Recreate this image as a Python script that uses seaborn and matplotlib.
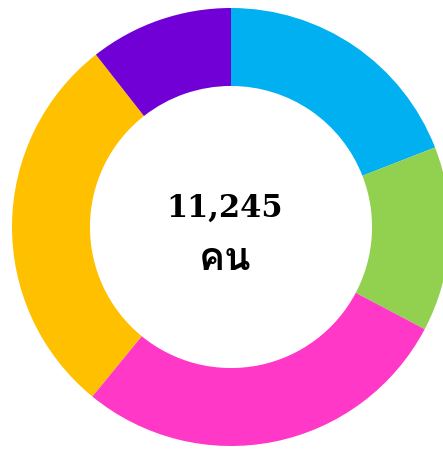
import matplotlib
matplotlib.use("Agg")
import matplotlib.pyplot as plt
from matplotlib import font_manager
from matplotlib.ft2font import FT2Font
import seaborn as sns

# donut segments, clockwise from 12 o'clock
groups = ["A", "B", "C", "D", "E"]
people = [2146, 1534, 3170, 3205, 1190]
colors = ["#00B0F0", "#92D050", "#FF38C8", "#FFC000", "#7000D6"]
total_label = "11,245"
unit_label = "คน"


def thai_font():
    # look for any installed font that can draw Thai
    for f in font_manager.fontManager.ttflist:
        try:
            if 0x0E04 in FT2Font(f.fname).get_charmap():
                return f.name
        except Exception:
            pass
    return None


sns.set_theme(style="white")
thai = thai_font()
families = ([thai] if thai else []) + ["DejaVu Sans"]

fig = plt.figure(figsize=(4.43, 4.50), dpi=100)
ax = fig.add_axes([0, 0, 1, 1])

ax.pie(people, colors=sns.color_palette(colors), startangle=90,
       counterclock=False, radius=1.0,
       wedgeprops=dict(width=0.356, linewidth=0))

# centre sits at (231, 227) px, radius 219 px
r = 219.0
ax.set_xlim(-231 / r, (443 - 231) / r)
ax.set_ylim(-(450 - 227) / r, 227 / r)
ax.set_aspect("auto")
ax.axis("off")

ax.text(-6 / r, 19 / r, total_label, ha="center", va="center",
        fontsize=22, fontweight="bold", color="black", family=["DejaVu Serif"])
ax.text(-6 / r, -33 / r, unit_label, ha="center", va="center",
        fontsize=28, fontweight="bold", color="black", family=families)

fig.savefig("out.png", dpi=100)
